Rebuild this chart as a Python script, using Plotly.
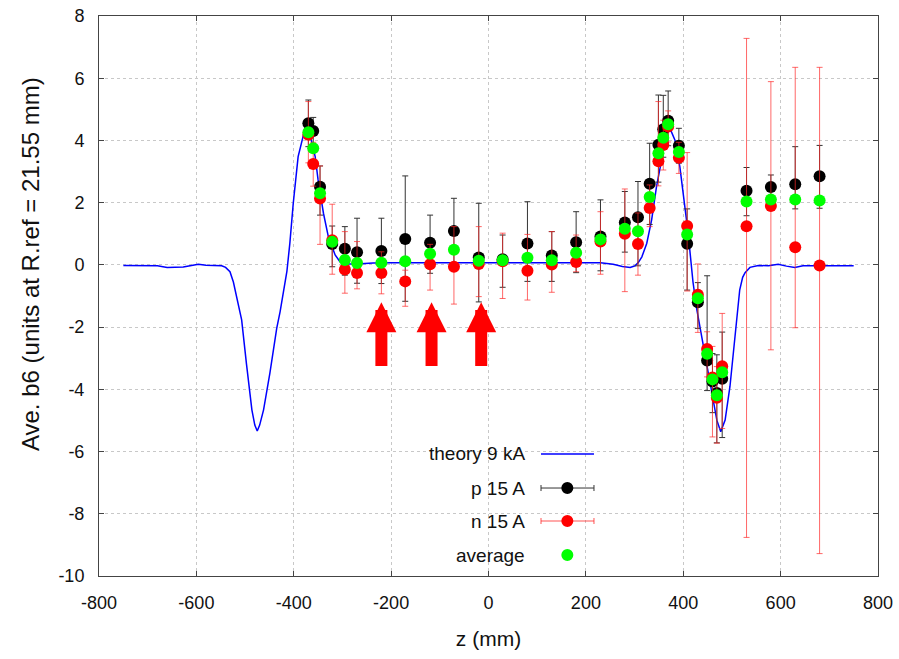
import plotly.graph_objects as go

# ---------------- data ----------------
theory_z = [-750, -700, -680, -660, -640, -627, -610, -596, -580, -560, -548, -540, -531, -524, -517, -507,
            -497, -486, -480, -475, -470, -462, -449, -435, -428, -420, -414, -408, -401, -391, -380, -373,
            -366, -356, -350, -339, -329, -315, -305, -290, -271, -237, -200, -100, 0, 100, 200, 230, 256,
            275, 291, 301, 308, 315, 325, 335, 345, 356, 366, 374, 383, 393, 401, 410, 420, 428, 438, 448,
            458, 469, 477, 486, 496, 503, 510, 516, 522, 527, 537, 554, 575, 595, 612, 629, 646, 700, 750]
theory_b6 = [-0.02, -0.02, -0.03, -0.08, -0.08, -0.07, -0.02, 0.02, -0.01, -0.01, -0.03, -0.08, -0.22, -0.55,
             -1.02, -1.77, -3.2, -4.66, -5.15, -5.34, -5.15, -4.66, -3.48, -2.04, -1.5, -0.75, -0.2, 0.7,
             1.98, 3.48, 4.18, 4.30, 4.15, 3.48, 2.73, 1.66, 0.91, 0.32, 0.1, 0.03, 0.03, 0.06, 0.07, 0.07,
             0.07, 0.07, 0.07, 0.07, 0.02, -0.05, -0.08, -0.03, 0.08, 0.26, 0.69, 1.44, 2.51, 3.48, 4.23,
             4.34, 4.01, 3.16, 2.19, 1.02, -0.55, -1.45, -2.31, -3.16, -4.13, -4.99, -5.36, -4.99, -3.9,
             -2.74, -1.66, -0.8, -0.4, -0.25, -0.08, -0.02, -0.03, 0.02, -0.04, -0.08, -0.03, -0.02, -0.03]

z_meas = [-370, -360, -346, -321, -295, -270, -220, -171, -120, -71, -20, 29, 80, 130, 180, 230, 280,
          307, 331, 349, 359, 369, 391, 408, 430, 449, 460, 469, 480, 530, 580, 630, 680]

p_b6 = [4.55, 4.30, 2.51, 0.67, 0.52, 0.41, 0.45, 0.83, 0.71, 1.09, 0.24, 0.18, 0.69, 0.30, 0.73, 0.91,
        1.36, 1.53, 2.61, 3.86, 4.36, 4.63, 3.83, 0.68, -1.20, -3.07, -3.75, -4.12, -3.66, 2.38, 2.50,
        2.59, 2.85]
p_err_up = [0.75, 0.44, 0.67, 0.58, 0.71, 1.09, 1.05, 2.03, 0.89, 1.05, 1.74, 0.78, 1.34, 0.77, 0.98, 1.18,
            1.0, 1.15, 1.30, 1.6, 1.09, 0.96, 0.56, 1.12, 0.63, 2.72, 0.9, 1.23, 1.5, 0.75, 0.39, 1.21, 0.99]
p_err_dn = [0.75, 0.44, 0.91, 0.73, 0.85, 1.0, 1.05, 2.0, 0.98, 1.05, 1.43, 0.9, 1.22, 0.83, 0.98, 1.1,
            0.95, 1.56, 1.31, 1.2, 0.9, 0.8, 0.56, 1.49, 0.84, 0.97, 1.0, 1.6, 1.89, 0.8, 0.4, 0.79, 1.03]

n_b6 = [4.18, 3.24, 2.13, 0.79, -0.15, -0.26, -0.26, -0.53, 0.02, -0.06, 0.03, 0.12, -0.19, 0.01, 0.09,
        0.75, 1.0, 0.67, 1.83, 3.33, 3.85, 4.45, 3.44, 1.25, -0.96, -2.70, -3.62, -4.27, -3.26, 1.24, 1.89,
        0.57, -0.02]
n_err_up = [1.07, 0.7, 1.05, 1.16, 1.22, 1.01, 0.68, 0.36, 0.64, 1.29, 1.2, 0.9, 1.17, 1.06, 0.87, 0.96,
            1.44, 1.0, 0.74, 1.92, 0.8, 0.5, 0.5, 2.36, 0.99, 0.55, 1.0, 1.0, 1.7, 6.04, 4.0, 5.78, 6.37]
n_err_dn = [0.9, 0.71, 1.47, 1.09, 0.76, 0.51, 0.67, 0.8, 0.83, 1.2, 1.05, 1.2, 0.94, 0.89, 0.31, 1.05,
            1.86, 1.0, 0.6, 0.79, 0.8, 0.5, 0.5, 2.09, 1.21, 0.9, 1.91, 1.46, 2.0, 10.0, 4.62, 2.59, 9.26]

avg_b6 = [4.26, 3.75, 2.30, 0.74, 0.16, 0.06, 0.07, 0.12, 0.36, 0.49, 0.13, 0.15, 0.23, 0.15, 0.39, 0.82,
          1.16, 1.08, 2.18, 3.59, 4.09, 4.52, 3.63, 0.98, -1.07, -2.86, -3.68, -4.19, -3.45, 2.04, 2.10,
          2.10, 2.07]

arrow_z = [-220, -117, -15]
arrow_tip = -1.2
arrow_tail = -3.3

legend_labels = ["theory 9 kA", "p 15 A", "n 15 A", "average"]

x_ticks = [-800, -600, -400, -200, 0, 200, 400, 600, 800]
x_ticktext = ["-800", "-600", "-400", "-200", "0", "200", "400", "600", "800"]
y_ticks = [-10, -8, -6, -4, -2, 0, 2, 4, 6, 8]
y_ticktext = ["-10", "-8", "-6", "-4", "-2", "0", "2", "4", "6", "8"]

x_title = "z (mm)"
y_title = "Ave. b6 (units at R.ref = 21.55 mm)"

FONT = "Liberation Sans, Arial, sans-serif"
TXT = "#111111"
BLUE = "#0000ff"
BLACK = "#000000"
RED = "#ff0000"
GREEN = "#00ff00"

fig = go.Figure()

fig.add_trace(go.Scatter(x=theory_z, y=theory_b6, mode="lines",
                         line=dict(color=BLUE, width=1.5), name=legend_labels[0], showlegend=False))

fig.add_trace(go.Scatter(x=z_meas, y=p_b6, mode="markers",
                         marker=dict(color=BLACK, size=12),
                         error_y=dict(type="data", symmetric=False, array=p_err_up, arrayminus=p_err_dn,
                                      color="#333333", thickness=1, width=3),
                         name=legend_labels[1], showlegend=False))

fig.add_trace(go.Scatter(x=z_meas, y=n_b6, mode="markers",
                         marker=dict(color=RED, size=12),
                         error_y=dict(type="data", symmetric=False, array=n_err_up, arrayminus=n_err_dn,
                                      color="rgba(255,40,40,0.7)", thickness=1, width=3),
                         name=legend_labels[2], showlegend=False))

fig.add_trace(go.Scatter(x=z_meas, y=avg_b6, mode="markers",
                         marker=dict(color=GREEN, size=12),
                         name=legend_labels[3], showlegend=False))

# red arrows
for az in arrow_z:
    fig.add_annotation(x=az, y=arrow_tip, ax=az, ay=arrow_tail, xref="x", yref="y",
                       axref="x", ayref="y", text="", showarrow=True, arrowhead=2,
                       arrowsize=0.5, arrowwidth=12, arrowcolor=RED, standoff=0)

# ---------------- custom legend (paper coordinates) ----------------
L_left, L_right = 0.350, 0.652
L_bottom, L_top = 0.002, 0.248
fig.add_shape(type="rect", xref="paper", yref="paper", x0=L_left, x1=L_right, y0=L_bottom, y1=L_top,
              fillcolor="white", line=dict(width=0), layer="between")

text_x = 0.5494
row_y = [0.2179, 0.1571, 0.0982, 0.0375]
s_x0, s_x1, s_xc = 0.5674, 0.6354, 0.6012
rx, ry = 6 / 779, 6 / 560
cap = 3 / 560
for lab, yy in zip(legend_labels, row_y):
    fig.add_annotation(x=text_x, y=yy, xref="paper", yref="paper", text=lab, showarrow=False,
                       xanchor="right", yanchor="middle", font=dict(family=FONT, size=19, color=TXT))

fig.add_shape(type="line", xref="paper", yref="paper", x0=s_x0, x1=s_x1, y0=row_y[0], y1=row_y[0],
              line=dict(color=BLUE, width=1.5))
for yy, col, lcol in [(row_y[1], BLACK, "#333333"), (row_y[2], RED, "rgba(255,40,40,0.8)")]:
    fig.add_shape(type="line", xref="paper", yref="paper", x0=s_x0, x1=s_x1, y0=yy, y1=yy,
                  line=dict(color=lcol, width=1))
    for cx in (s_x0, s_x1):
        fig.add_shape(type="line", xref="paper", yref="paper", x0=cx, x1=cx, y0=yy - cap, y1=yy + cap,
                      line=dict(color=lcol, width=1))
    fig.add_shape(type="circle", xref="paper", yref="paper", x0=s_xc - rx, x1=s_xc + rx,
                  y0=yy - ry, y1=yy + ry, fillcolor=col, line=dict(width=0))
fig.add_shape(type="circle", xref="paper", yref="paper", x0=s_xc - rx, x1=s_xc + rx,
              y0=row_y[3] - ry, y1=row_y[3] + ry, fillcolor=GREEN, line=dict(width=0))

# y-axis title (placed as rotated text, slightly above plot centre as in the reference)
fig.add_annotation(x=-0.0886, y=0.557, xref="paper", yref="paper", text=y_title, showarrow=False,
                   textangle=-90, xanchor="center", yanchor="middle",
                   font=dict(family=FONT, size=24, color=TXT))

axis_common = dict(showline=True, linecolor="#444444", linewidth=1, mirror="ticks",
                   ticks="inside", ticklen=5, tickcolor="#444444",
                   showgrid=True, gridcolor="#c8c8c8", griddash="3px,3px", gridwidth=1,
                   zeroline=False, tickfont=dict(family=FONT, size=18, color=TXT))

fig.update_xaxes(range=[-800, 800], tickvals=x_ticks, ticktext=x_ticktext, ticklabelstandoff=10,
                 title=dict(text=x_title, font=dict(family=FONT, size=21, color=TXT), standoff=19),
                 **axis_common)
fig.update_yaxes(range=[-10, 8], tickvals=y_ticks, ticktext=y_ticktext, ticklabelstandoff=10,
                 **axis_common)

fig.update_layout(width=899, height=659, margin=dict(l=99, r=21, t=16, b=83, autoexpand=False),
                  paper_bgcolor="white", plot_bgcolor="white", showlegend=False)

fig.write_html("out.html")
